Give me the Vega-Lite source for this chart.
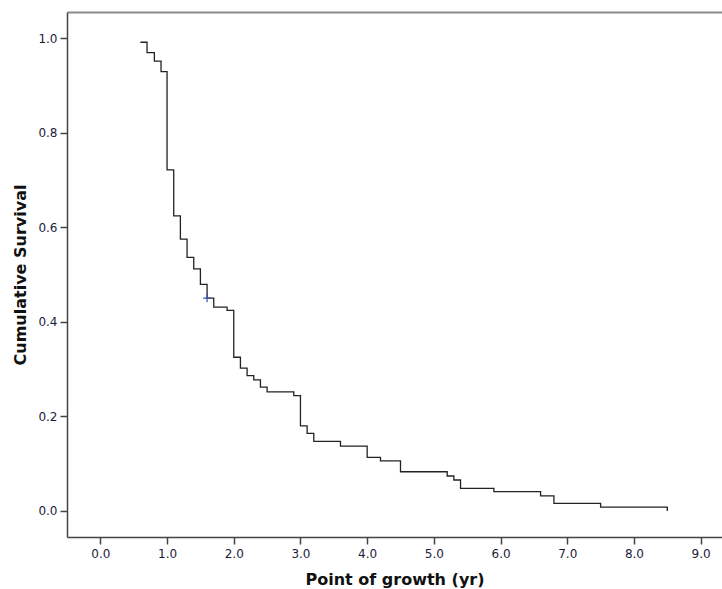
{
  "$schema": "https://vega.github.io/schema/vega-lite/v6.json",
  "autosize": "none",
  "width": 655,
  "height": 525,
  "padding": {"left": 67, "top": 12, "right": 0, "bottom": 52},
  "background": "white",
  "config": {
    "view": {"stroke": null},
    "font": "DejaVu Sans",
    "axis": {
      "domainColor": "#444444",
      "domainWidth": 1.5,
      "tickColor": "#444444",
      "tickWidth": 1.5,
      "tickSize": 7,
      "labelFont": "DejaVu Sans",
      "labelFontSize": 12,
      "labelColor": "#1c1c3a",
      "titleFont": "DejaVu Sans",
      "titleFontSize": 16,
      "titleFontWeight": "bold",
      "titleColor": "#111111",
      "grid": false
    }
  },
  "datasets": {
    "survival": [
      {"t": 0.6, "s": 0.991},
      {"t": 0.7, "s": 0.969},
      {"t": 0.81, "s": 0.951},
      {"t": 0.91, "s": 0.929},
      {"t": 1.0, "s": 0.721},
      {"t": 1.1, "s": 0.624},
      {"t": 1.2, "s": 0.575},
      {"t": 1.3, "s": 0.536},
      {"t": 1.4, "s": 0.512},
      {"t": 1.5, "s": 0.479},
      {"t": 1.6, "s": 0.45},
      {"t": 1.7, "s": 0.431},
      {"t": 1.9, "s": 0.424},
      {"t": 2.0, "s": 0.325},
      {"t": 2.1, "s": 0.302},
      {"t": 2.2, "s": 0.286},
      {"t": 2.3, "s": 0.277},
      {"t": 2.4, "s": 0.262},
      {"t": 2.5, "s": 0.252},
      {"t": 2.9, "s": 0.244},
      {"t": 3.0, "s": 0.18},
      {"t": 3.1, "s": 0.164},
      {"t": 3.2, "s": 0.147},
      {"t": 3.6, "s": 0.137},
      {"t": 4.0, "s": 0.1135},
      {"t": 4.2, "s": 0.106},
      {"t": 4.5, "s": 0.083},
      {"t": 5.2, "s": 0.074},
      {"t": 5.3, "s": 0.0655},
      {"t": 5.4, "s": 0.048},
      {"t": 5.9, "s": 0.041},
      {"t": 6.6, "s": 0.032},
      {"t": 6.8, "s": 0.016},
      {"t": 7.5, "s": 0.008},
      {"t": 8.5, "s": 0.0}
    ],
    "censored": [
      {"t": 1.6, "s": 0.45}
    ]
  },
  "layer": [
    {
      "data": {"name": "survival"},
      "mark": {"type": "line", "interpolate": "step-after", "color": "#222222", "strokeWidth": 1.3},
      "encoding": {
        "x": {
          "field": "t", "type": "quantitative",
          "scale": {"domain": [-0.5, 9.32], "nice": false, "zero": false},
          "axis": {"values": [0, 1, 2, 3, 4, 5, 6, 7, 8, 9], "format": ".1f", "title": "Point of growth (yr)", "titlePadding": 12, "labelPadding": 4}
        },
        "y": {
          "field": "s", "type": "quantitative",
          "scale": {"domain": [-0.055, 1.055], "nice": false, "zero": false},
          "axis": {"values": [0, 0.2, 0.4, 0.6, 0.8, 1.0], "format": ".1f", "title": "Cumulative Survival", "titlePadding": 9, "labelPadding": 3}
        }
      }
    },
    {
      "data": {"name": "censored"},
      "mark": {"type": "point", "shape": "M-1,0L1,0M0,-1L0,1", "filled": false, "stroke": "#3a56b0", "strokeWidth": 1.2, "size": 64, "opacity": 1},
      "encoding": {
        "x": {
          "field": "t", "type": "quantitative",
          "axis": {"orient": "top", "labels": false, "ticks": false, "title": null, "domainColor": "#8c8c8c", "domainWidth": 2}
        },
        "y": {"field": "s", "type": "quantitative"}
      }
    }
  ],
  "resolve": {"axis": {"x": "independent"}}
}
